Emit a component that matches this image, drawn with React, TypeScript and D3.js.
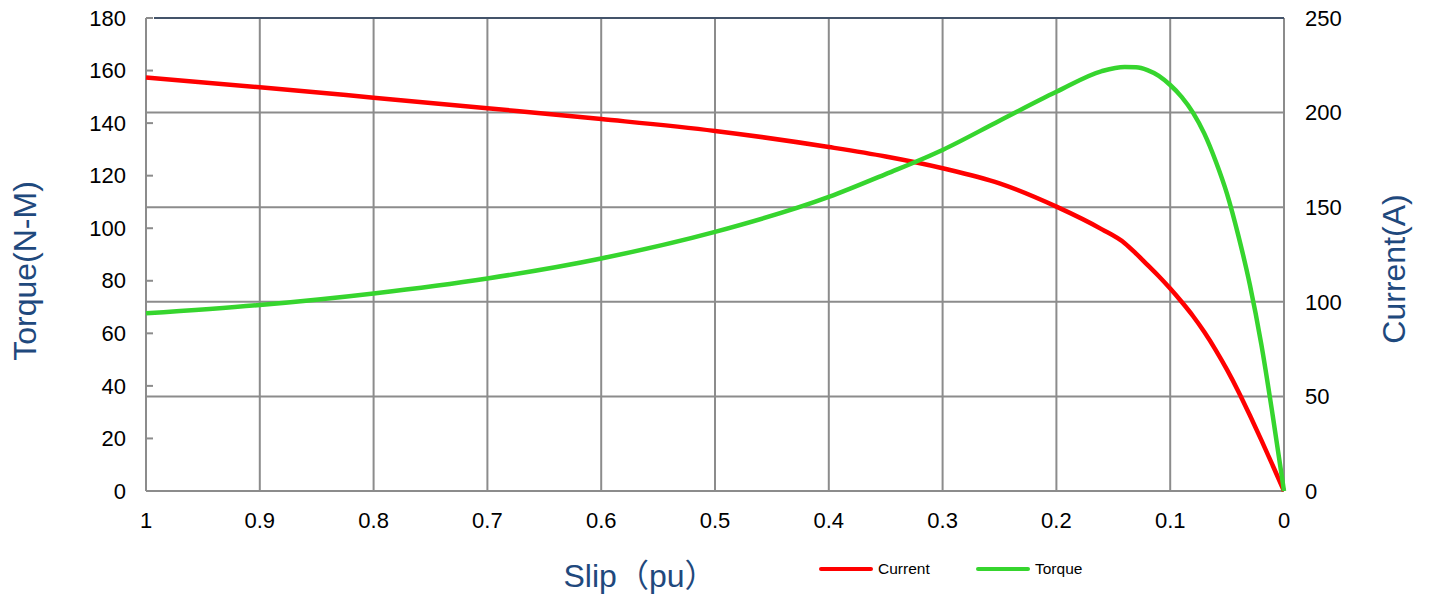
import React from 'react'
import * as d3 from 'd3'

const slip = [1, 0.9, 0.8, 0.7, 0.6, 0.5, 0.4, 0.35, 0.3, 0.25, 0.2, 0.16, 0.14, 0.13, 0.12, 0.11, 0.1, 0.09, 0.08, 0.07, 0.06, 0.05, 0.04, 0.03, 0.02, 0.01, 0]
const torque = [67.6, 70.8, 75.2, 80.9, 88.5, 98.6, 111.9, 120.6, 129.8, 140.9, 151.9, 159.8, 161.4, 161.3, 160.2, 158, 154.5, 150, 144, 136, 125.5, 113, 97, 78.5, 56, 29, 0]
const current = [218.5, 213.4, 207.9, 202.3, 196.6, 190.3, 181.8, 176.8, 170.6, 162.6, 150.3, 138.3, 131, 125.5, 119.5, 113.5, 107, 100, 92.5, 84, 74.5, 64, 52.5, 40, 27, 13.6, 0]

const slipTicks = [1, 0.9, 0.8, 0.7, 0.6, 0.5, 0.4, 0.3, 0.2, 0.1, 0]
const torqueTicks = [0, 20, 40, 60, 80, 100, 120, 140, 160, 180]
const currentTicks = [0, 50, 100, 150, 200, 250]

const FONT = '"Liberation Sans", Arial, "Noto Sans CJK SC", sans-serif'
const GRID = '#8c8c8c'
const TITLE = '#1f497d'
const RED = '#ff0000'
const GREEN = '#36d52e'

export default function App() {
  const width = 1429
  const height = 596
  const left = 146
  const right = 1284
  const top = 18
  const bottom = 491

  const x = d3.scaleLinear().domain([1, 0]).range([left, right])
  const yT = d3.scaleLinear().domain([0, 180]).range([bottom, top])
  const yC = d3.scaleLinear().domain([0, 250]).range([bottom, top])

  const torqueLine = d3.line<number>()
    .x((_, i) => x(slip[i]))
    .y(d => yT(d))
    .curve(d3.curveMonotoneX)
  const currentLine = d3.line<number>()
    .x((_, i) => x(slip[i]))
    .y(d => yC(d))
    .curve(d3.curveMonotoneX)

  return (
    <svg
      width={width}
      height={height}
      style={{ position: 'absolute', left: 0, top: 0, background: '#fff' }}
      fontFamily={FONT}
    >
      {/* horizontal gridlines follow the current axis */}
      {currentTicks.filter(t => t > 0 && t < 250).map(t => (
        <line key={`h-${t}`} x1={left} x2={right} y1={yC(t)} y2={yC(t)} stroke={GRID} strokeWidth={2} />
      ))}
      {/* vertical gridlines */}
      {slipTicks.map(t => (
        <line key={`v-${t}`} x1={x(t)} x2={x(t)} y1={top} y2={bottom} stroke={GRID} strokeWidth={2} />
      ))}
      <line x1={left} x2={right} y1={bottom} y2={bottom} stroke={GRID} strokeWidth={2} />
      <line x1={left + 8} x2={right} y1={top} y2={top} stroke="#44546a" strokeWidth={2} />

      {/* left axis ticks */}
      {torqueTicks.map(t => (
        <g key={`lt-${t}`}>
          <line x1={left} x2={left + 7} y1={yT(t)} y2={yT(t)} stroke={GRID} strokeWidth={2} />
          <text x={126} y={yT(t)} dy="0.35em" textAnchor="end" fontSize={22} fill="#000">{t}</text>
        </g>
      ))}
      {currentTicks.map(t => (
        <text key={`rt-${t}`} x={1305} y={yC(t)} dy="0.35em" textAnchor="start" fontSize={22} fill="#000">{t}</text>
      ))}
      {slipTicks.map(t => (
        <text key={`xt-${t}`} x={x(t)} y={528} textAnchor="middle" fontSize={22} fill="#000">{String(t)}</text>
      ))}

      {/* curves */}
      <path d={currentLine(current) ?? ''} fill="none" stroke={RED} strokeWidth={4.5} strokeLinejoin="round" />
      <path d={torqueLine(torque) ?? ''} fill="none" stroke={GREEN} strokeWidth={4.5} strokeLinejoin="round" />

      {/* axis titles */}
      <text transform="translate(36,271) rotate(-90)" textAnchor="middle" fontSize={32} fill={TITLE}>Torque(N-M)</text>
      <text transform="translate(1405,269) rotate(-90)" textAnchor="middle" fontSize={32} fill={TITLE}>Current(A)</text>
      <text x={640} y={587} textAnchor="middle" fontSize={32} fill={TITLE}
        fontFamily='"Liberation Sans", "Noto Sans CJK SC", sans-serif'>Slip（pu）</text>

      {/* legend */}
      <line x1={821} x2={871} y1={569} y2={569} stroke={RED} strokeWidth={4} strokeLinecap="round" />
      <text x={878} y={574} fontSize={15.5} fill="#000">Current</text>
      <line x1={978} x2={1028} y1={569} y2={569} stroke={GREEN} strokeWidth={4} strokeLinecap="round" />
      <text x={1035} y={574} fontSize={15.5} fill="#000">Torque</text>
    </svg>
  )
}
